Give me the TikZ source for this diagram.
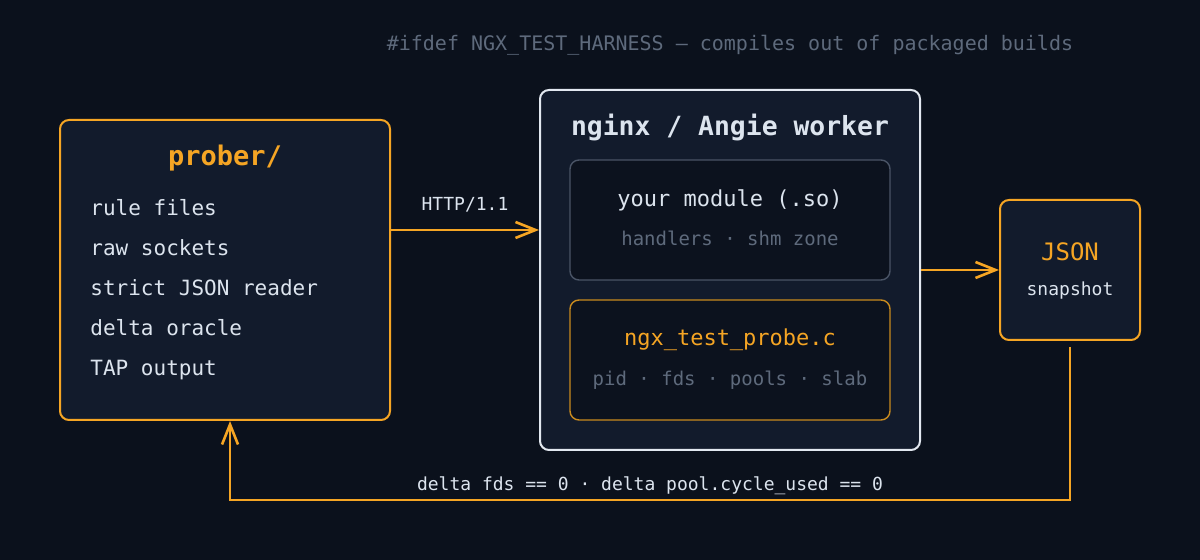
\documentclass[tikz,border=0pt]{standalone}
\usepackage{fontspec}
\setmonofont{DejaVu Sans Mono}
\usetikzlibrary{arrows.meta,positioning}

\definecolor{bg}{HTML}{0B111C}
\definecolor{panel}{HTML}{121B2C}
\definecolor{inner}{HTML}{0C121E}
\definecolor{amber}{HTML}{F5A524}
\definecolor{darkamber}{HTML}{C98B1E}
\definecolor{light}{HTML}{DCE4EE}
\definecolor{dim}{HTML}{5E6A7C}
\definecolor{rim}{HTML}{4A5466}
\definecolor{frame}{HTML}{E2E8F0}

\newcommand{\fs}[1]{\fontsize{#1}{#1}\selectfont}

\tikzset{
  box/.style={draw, rounded corners=4.5pt, line width=1pt, fill=panel, inner sep=0pt},
  subbox/.style={box, fill=inner, line width=0.7pt, minimum width=160pt, minimum height=60pt},
  txt/.style={anchor=base, inner sep=0pt, text=light},
  item/.style={txt, anchor=base west, font=\ttfamily\fs{10.5}},
  flow/.style={->, draw=amber, line width=1.2pt}
}

\begin{document}
\begin{tikzpicture}[x=0.5pt, y=-0.5pt, >={Straight Barb[length=10pt,width=8pt,line width=1.3pt]}, font=\ttfamily]
\fill[bg] (0,0) rectangle (1200,560);

% note on top
\node[txt, text=dim, font=\ttfamily\fs{10}] (note) at (730,51) {\#ifdef NGX\_TEST\_HARNESS — compiles out of packaged builds};

% prober
\node[box, draw=amber, minimum width=165pt, minimum height=150pt] (prober) at (225,270) {};
\node[txt, text=amber, font=\ttfamily\bfseries\fs{13.5}] (proberTitle) at (225,166) {prober/};
\foreach \t [count=\i] in {rule files, raw sockets, strict JSON reader, delta oracle, TAP output}
  \node[item] (item\i) at (90,176+40*\i) {\t};

% worker
\node[box, draw=frame, minimum width=190pt, minimum height=180pt] (worker) at (730,270) {};
\node[txt, font=\ttfamily\bfseries\fs{13.2}] (workerTitle) at (730,136) {nginx / Angie worker};

\node[subbox, draw=rim] (module) at (730,220) {};
\node[txt, font=\ttfamily\fs{11}] (moduleName) at (730,207) {your module (.so)};
\node[txt, text=dim, font=\ttfamily\fs{9.5}] (moduleSub) at (730,246) {handlers · shm zone};

\node[subbox, draw=darkamber] (probe) at (730,360) {};
\node[txt, text=amber, font=\ttfamily\fs{11}] (probeName) at (730,346) {ngx\_test\_probe.c};
\node[txt, text=dim, font=\ttfamily\fs{9.5}] (probeSub) at (730,386) {pid · fds · pools · slab};

% snapshot
\node[box, draw=amber, minimum width=70pt, minimum height=70pt] (json) at (1070,270) {};
\node[txt, text=amber, font=\ttfamily\fs{12}] (jsonName) at (1070,261) {JSON};
\node[txt, font=\ttfamily\fs{9}] (jsonSub) at (1070,296) {snapshot};

% connectors
\draw[flow] ([yshift=20pt]prober.east) -- node[txt, above=8.5pt, font=\ttfamily\fs{9}] (http) {HTTP/1.1} ([yshift=20pt]worker.west);
\draw[flow] (worker) -- (json);
\coordinate (turn) at (1070,500);
\draw[flow] ([yshift=-3pt]json.south) -- (turn) -| ([xshift=2.5pt]prober.south);
\node[txt, font=\ttfamily\fs{9}] (oracle) at (650,491) {delta fds == 0 · delta pool.cycle\_used == 0};
\end{tikzpicture}
\end{document}
